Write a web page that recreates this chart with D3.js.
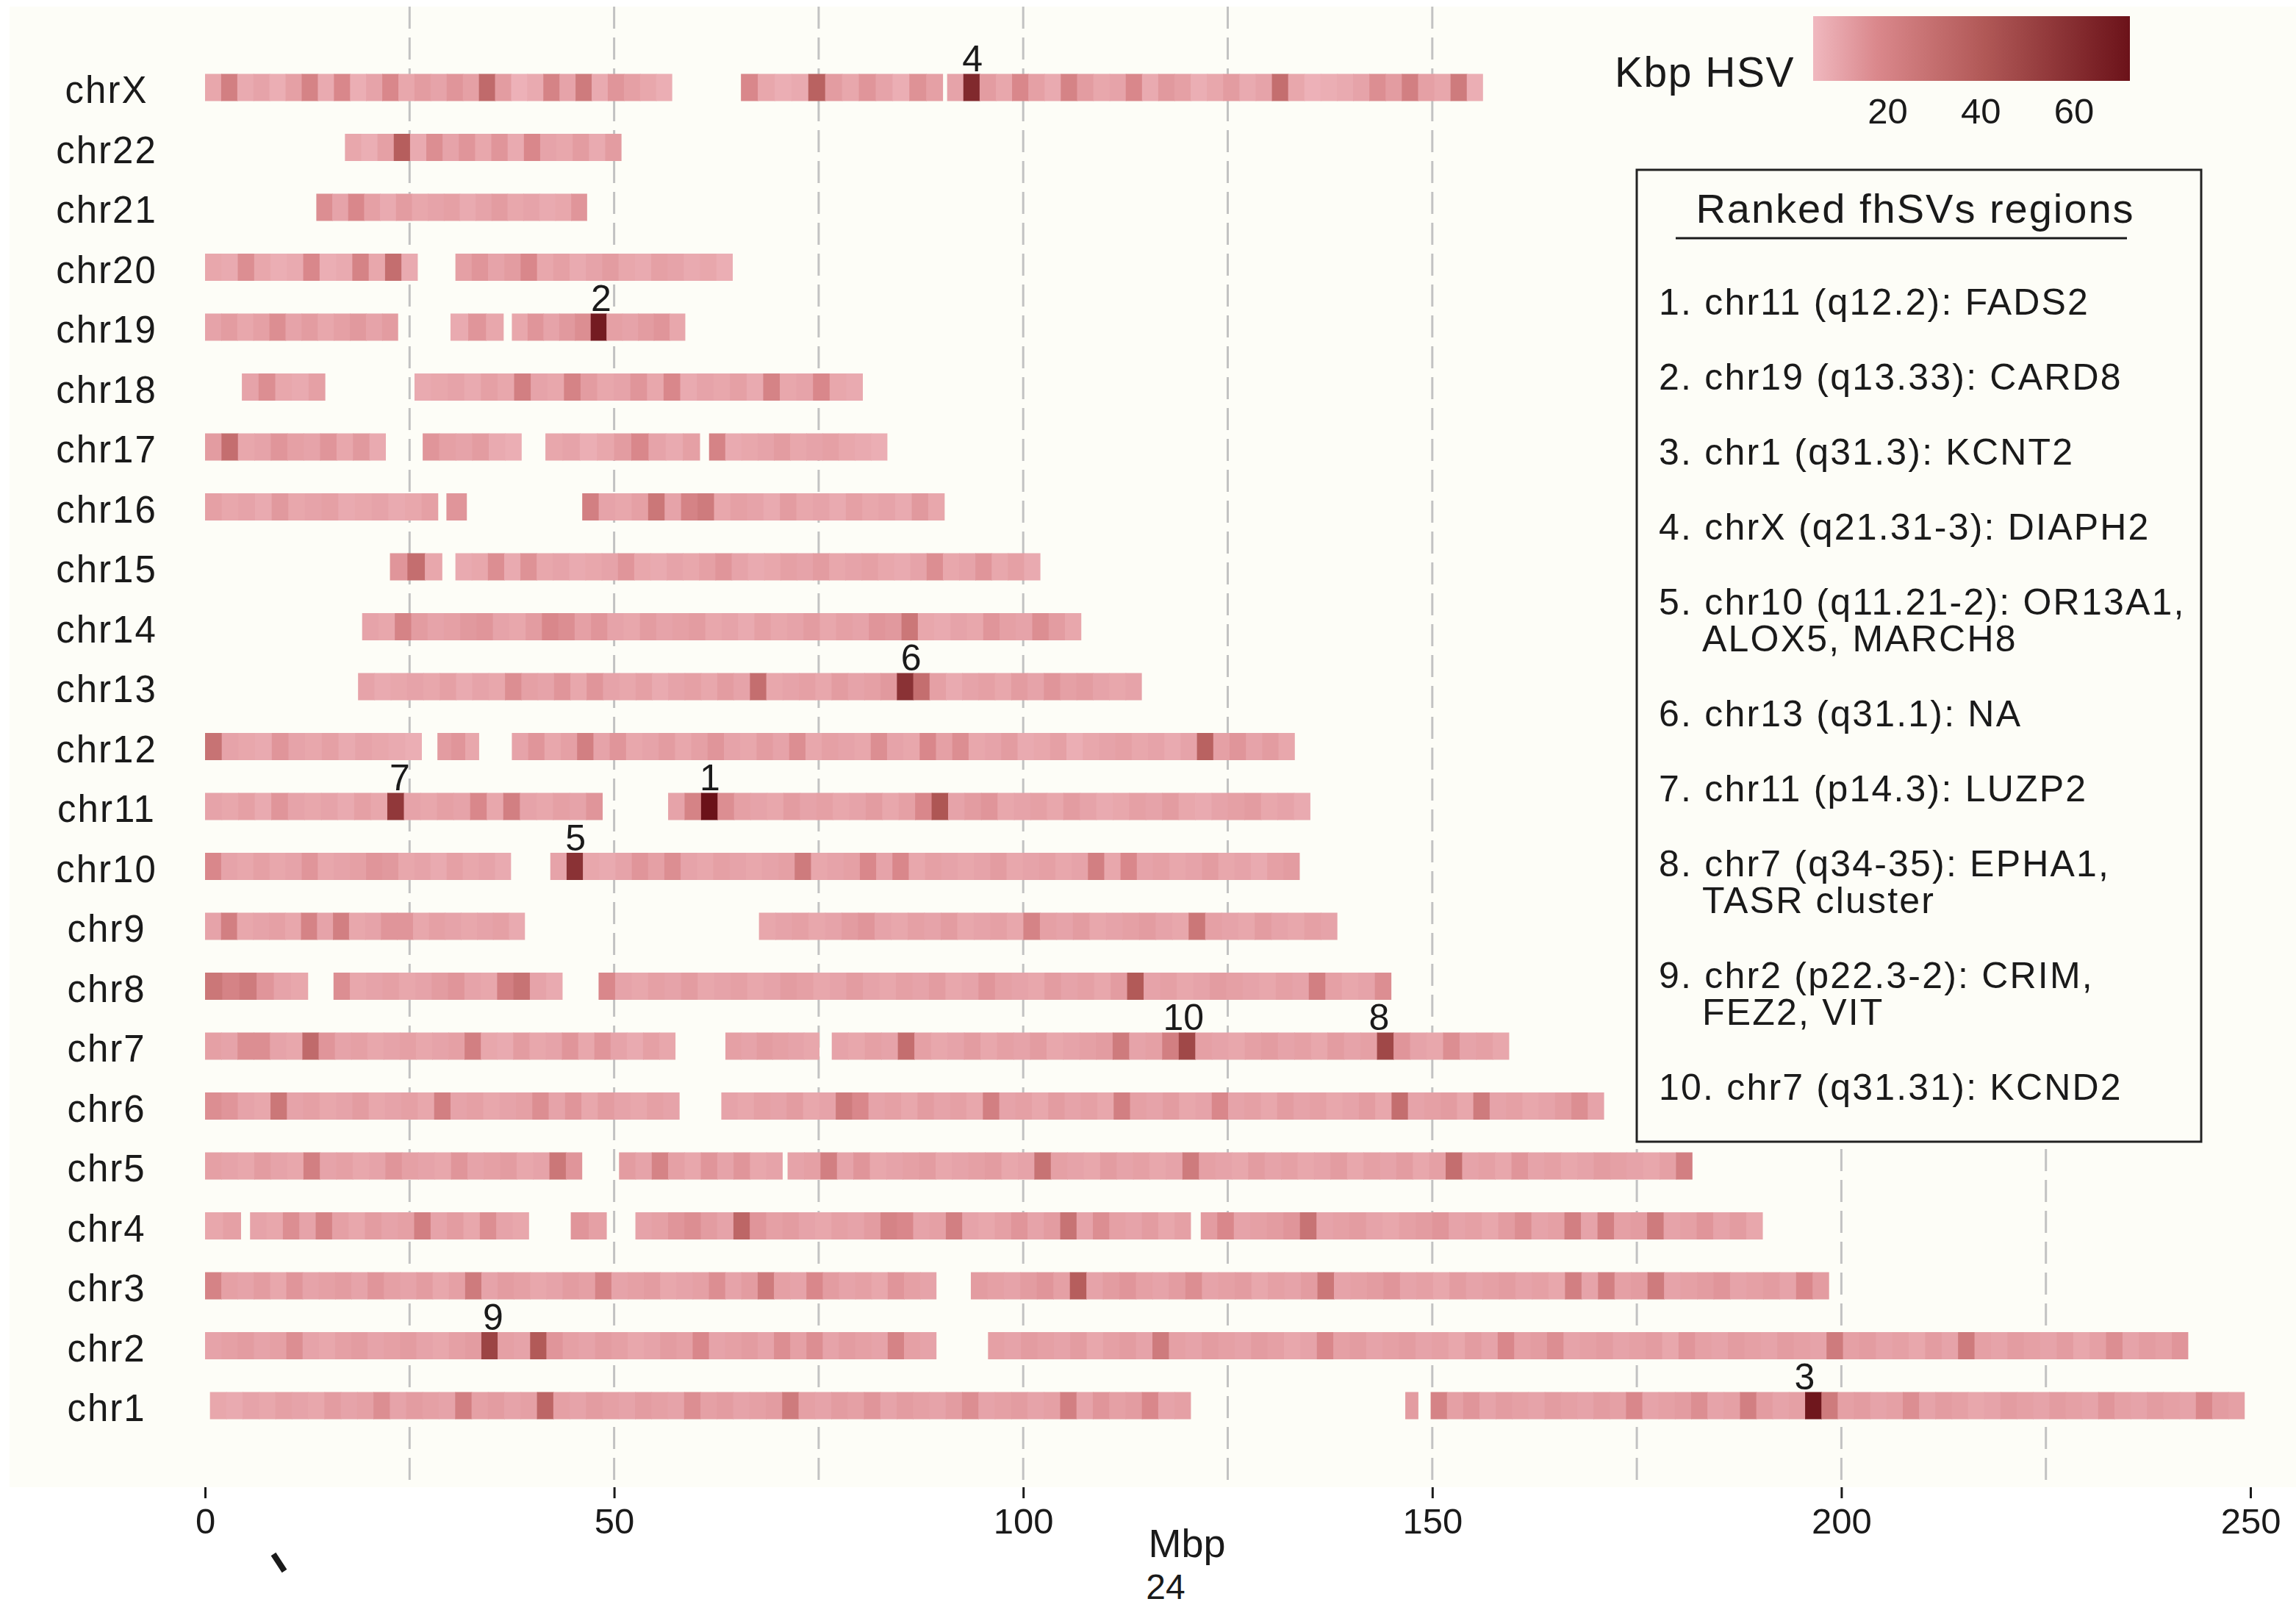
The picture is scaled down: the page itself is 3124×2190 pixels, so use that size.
<!DOCTYPE html>
<html><head><meta charset="utf-8">
<script src="https://cdn.jsdelivr.net/npm/d3@7"></script>
<style>
html,body{margin:0;padding:0;background:#fff;}
svg{display:block;}
text{font-family:"Liberation Sans",Arial,Helvetica,sans-serif;fill:#1a1a1a;}
</style>
</head><body>
<svg id="chart" width="3124" height="2190"></svg>
<script>
// ---------- DATA ----------
const chromosomes = ["chrX","chr22","chr21","chr20","chr19","chr18","chr17","chr16","chr15","chr14","chr13","chr12","chr11","chr10","chr9","chr8","chr7","chr6","chr5","chr4","chr3","chr2","chr1"];

// each segment: [start Mbp, end Mbp, binned Kbp HSV values]
const segX = [
 [0, 57.1, [9,22,8,10,7,11,20,8,18,7,10,18,9,12,10,14,11,32,12,6,8,20,10,24,8,14,11,9,7]],
 [65.5, 90.2, [18,9,7,8,36,12,9,14,10,7,15,11]],
 [90.7, 156.2, [10,62,12,9,18,11,8,20,12,9,10,18,8,13,11,7,9,12,8,10,30,9,6,7,8,10,16,12,22,11,9,24,7]]
];
const seg22 = [[17.1, 50.9, [9,7,11,38,8,16,10,14,9,14,8,18,10,9,12,8,12]]];
const seg21 = [[13.6, 46.7, [16,10,18,11,8,12,9,10,11,8,10,12,9,10,8,9,14]]];
const seg20 = [
 [0, 26, [9,8,16,9,7,8,18,7,8,20,9,30,8]],
 [30.6, 64.5, [11,14,10,12,18,9,11,8,10,12,9,8,11,10,8,9,7]]
];
const seg19 = [
 [0, 23.6, [10,12,9,11,16,10,12,9,11,13,10,12]],
 [30, 36.5, [8,14,9]],
 [37.5, 58.7, [9,14,10,13,16,68,11,10,12,14,9]]
];
const seg18 = [
 [4.5, 14.7, [10,16,9,8,11]],
 [25.6, 80.4, [8,9,10,8,11,9,22,10,9,20,12,9,10,14,9,18,8,10,9,11,8,20,9,10,18,9,8]]
];
const seg17 = [
 [0, 22.1, [12,30,9,10,14,11,10,14,9,13,8]],
 [26.6, 38.7, [14,11,10,12,8,7]],
 [41.6, 60.5, [9,10,7,9,12,18,10,8,11]],
 [61.6, 83.4, [20,8,9,10,12,9,10,11,9,8,7]]
];
const seg16 = [
 [0, 28.5, [11,9,10,8,13,9,10,11,8,9,10,8,9,11]],
 [29.5, 32, [14]],
 [46.1, 90.4, [22,10,9,11,26,10,20,24,9,11,10,8,12,9,10,8,11,9,10,8,13,9]]
];
const seg15 = [
 [22.6, 29, [14,30,9]],
 [30.6, 102.1, [8,9,16,8,15,9,10,8,9,10,14,9,8,10,9,11,14,10,8,9,11,10,12,9,10,11,9,8,10,16,9,10,14,9,11,8]]
];
const seg14 = [[19.2, 107.1, [10,9,20,12,10,11,13,14,10,9,12,18,16,11,14,10,9,12,10,11,12,9,10,8,11,9,10,12,9,11,10,14,13,26,9,8,10,9,14,11,10,16,12,9]]];
const seg13 = [[18.7, 114.5, [10,8,9,10,9,11,8,10,9,16,11,10,14,9,14,10,9,11,8,10,11,9,12,10,30,9,10,11,9,12,10,11,13,58,30,11,8,10,11,9,12,10,14,11,12,10,9,10]]];
const seg12 = [
 [0, 26.5, [28,10,9,8,14,10,9,11,8,10,9,8,7]],
 [28.4, 33.5, [12,14,9]],
 [37.5, 133.2, [10,14,9,11,22,10,14,9,10,12,9,11,14,10,9,12,10,16,9,11,10,9,16,10,9,18,11,16,9,10,12,8,9,11,7,9,10,11,9,10,8,10,36,11,14,10,12,9]]
];
const seg11 = [
 [0, 48.6, [10,9,11,8,14,10,9,10,8,11,9,55,10,9,11,10,18,9,22,10,9,11,10,14]],
 [56.6, 135.1, [10,20,72,16,11,10,9,12,10,11,9,10,12,9,11,18,42,10,12,14,9,10,11,9,12,10,8,9,11,10,12,9,8,10,11,12,9,10,8]]
];
const seg10 = [
 [0, 37.4, [18,10,9,11,9,10,14,9,10,11,14,13,9,10,8,11,9,10,8]],
 [42.2, 133.8, [10,58,9,8,10,14,11,16,10,9,11,10,9,10,11,24,9,10,11,18,10,18,9,11,10,9,10,12,9,10,11,9,10,22,9,18,10,11,9,10,12,9,10,8,11,12]]
];
const seg9 = [
 [0, 39.1, [10,22,9,10,11,9,20,10,22,9,10,14,14,9,11,10,9,10,11,8]],
 [67.7, 138.4, [9,10,11,9,10,12,14,10,9,11,10,12,9,10,11,9,20,11,10,12,9,10,11,12,10,9,26,11,10,9,12,10,9,11,10]]
];
const seg8 = [
 [0, 12.6, [26,20,24,14,10,9]],
 [15.7, 43.7, [16,9,10,11,9,10,12,14,10,9,22,28,10,8]],
 [48.1, 145, [18,10,9,11,10,12,9,10,11,9,10,12,11,9,10,12,10,9,11,10,12,9,10,14,11,10,9,12,10,11,9,12,40,10,11,9,10,12,11,10,9,11,10,22,11,9,10,16]]
];
const seg7 = [
 [0, 57.5, [11,10,16,16,10,9,32,14,10,11,9,10,11,9,10,11,22,9,8,12,9,10,14,9,14,10,8,11,9]],
 [63.6, 75.1, [11,10,12,11,10,9]],
 [76.6, 159.4, [10,9,11,10,30,11,9,10,12,9,11,10,12,9,10,11,12,24,10,11,22,48,11,10,9,11,12,10,11,9,12,10,11,48,14,10,9,16,10,11,9]]
];
const seg6 = [
 [0, 58, [16,14,10,9,26,10,11,9,10,12,9,10,11,9,22,10,11,9,10,11,16,10,14,9,12,10,9,11,10]],
 [63.1, 171, [10,9,11,10,12,9,10,24,18,10,11,9,12,10,11,9,22,10,11,9,12,10,11,9,22,11,10,12,9,10,18,10,11,9,12,10,11,9,10,12,9,30,10,11,12,9,24,10,11,9,10,12,16,10]]
];
const seg5 = [
 [0, 46.1, [11,10,9,12,10,9,22,10,11,9,10,14,11,10,9,14,10,11,12,9,10,26,14]],
 [50.6, 70.6, [12,10,20,11,9,14,10,14,9,10]],
 [71.2, 181.8, [10,11,22,10,14,9,10,11,12,9,10,11,12,9,10,28,11,10,9,12,10,11,9,10,24,11,10,9,12,10,11,9,10,12,9,11,10,12,9,11,30,10,11,9,14,10,11,9,10,12,11,10,9,11,22]]
];
const seg4 = [
 [0, 4.4, [9,11]],
 [5.5, 39.6, [10,9,16,10,20,11,9,12,10,11,22,10,12,9,16,10,9]],
 [44.7, 49.1, [14,11]],
 [52.6, 120.5, [10,11,14,16,12,10,34,14,11,12,10,9,11,10,12,20,18,10,11,22,10,9,11,14,10,12,28,10,16,11,10,12,9,11]],
 [121.7, 190.4, [12,18,10,11,12,14,28,10,11,12,10,9,11,12,14,10,11,9,12,16,10,11,22,10,22,11,12,24,10,11,14,10,12,9]]
];
const seg3 = [
 [0, 89.4, [20,11,10,12,9,14,10,11,12,10,14,11,10,12,9,11,24,10,12,11,9,10,12,11,20,10,11,12,9,10,11,16,10,12,24,11,10,18,12,10,11,9,14,11,10]],
 [93.6, 198.5, [12,11,10,12,14,11,38,10,12,14,11,10,12,16,10,11,12,9,11,10,12,26,10,11,12,14,10,11,9,12,10,11,12,10,11,9,22,10,22,11,12,24,10,11,12,14,10,11,12,10,18,12]]
];
const seg2 = [
 [0, 89.4, [10,11,12,10,11,16,10,9,11,12,10,11,12,10,9,11,12,50,11,10,40,14,11,10,12,11,9,10,12,11,18,10,11,12,10,16,11,16,10,12,11,10,20,11,10]],
 [95.7, 242.4, [11,10,12,11,10,12,9,11,12,10,24,11,10,12,11,10,12,11,9,10,18,11,12,10,11,12,10,11,9,12,10,18,11,12,16,10,11,12,10,11,12,9,14,11,10,12,11,10,12,11,10,24,11,12,10,11,9,12,10,24,11,10,12,11,10,12,9,11,16,10,12,11,14]]
];
const seg1 = [
 [0.6, 120.5, [9,8,10,9,11,10,9,12,10,11,16,10,12,11,10,22,11,12,10,11,34,11,10,12,11,10,12,11,10,16,11,12,10,11,12,24,11,10,12,11,14,10,12,11,10,12,16,10,11,12,10,11,22,10,14,11,12,18,10,11]],
 [146.7, 148.3, [12]],
 [149.8, 249.3, [20,11,14,10,12,11,10,12,11,10,12,11,18,10,11,12,16,10,11,22,12,10,11,70,24,11,12,10,11,16,10,12,11,9,10,12,11,10,12,11,10,14,11,10,12,11,10,18,12,11]]
];
const segments = [segX,seg22,seg21,seg20,seg19,seg18,seg17,seg16,seg15,seg14,seg13,seg12,seg11,seg10,seg9,seg8,seg7,seg6,seg5,seg4,seg3,seg2,seg1];

const rankLabels = ["1","2","3","4","5","6","7","8","9","10"];
const rankChr = ["chr11","chr19","chr1","chrX","chr10","chr13","chr11","chr7","chr2","chr7"];
const rankPos = [61.7, 48.4, 195.5, 93.8, 45.3, 86.3, 23.8, 143.5, 35.2, 119.6];

const legendEntries = [
 ["1. chr11 (q12.2): FADS2"],
 ["2. chr19 (q13.33): CARD8"],
 ["3. chr1 (q31.3): KCNT2"],
 ["4. chrX (q21.31-3): DIAPH2"],
 ["5. chr10 (q11.21-2): OR13A1,", "ALOX5, MARCH8"],
 ["6. chr13 (q31.1): NA"],
 ["7. chr11 (p14.3): LUZP2"],
 ["8. chr7 (q34-35): EPHA1,", "TASR cluster"],
 ["9. chr2 (p22.3-2): CRIM,", "FEZ2, VIT"],
 ["10. chr7 (q31.31): KCND2"]
];
const legendTitle = "Ranked fhSVs regions";
const colorTitle = "Kbp HSV";
const colorTicks = [20, 40, 60];
const colorDomain = [4, 18, 40, 72];
const colorRange = ["#f0b8bf", "#d9878b", "#b25a58", "#6b1219"];
const xTicks = [0, 50, 100, 150, 200, 250];
const gridValues = [25, 50, 75, 100, 125, 150, 175, 200, 225];
const xTitle = "Mbp";
const pageNumber = "24";

// ---------- DRAW ----------
const W = 3124, H = 2190;
const FONT = '"Liberation Sans",Arial,Helvetica,sans-serif';
const PANEL_BG = "#fdfdf7";
const svg = d3.select("#chart");
svg.append("rect").attr("width", W).attr("height", H).attr("fill", "#fff");
const panel = {x0: 13, x1: 3124, y0: 9, y1: 2023};
svg.append("rect").attr("x", panel.x0).attr("y", panel.y0)
  .attr("width", panel.x1 - panel.x0).attr("height", panel.y1 - panel.y0).attr("fill", PANEL_BG);

const x = d3.scaleLinear().domain([0, 250]).range([279, 3062]);
const y = d3.scalePoint().domain(chromosomes).range([119, 1912]);
const color = d3.scaleLinear().domain(colorDomain).range(colorRange).clamp(true);

// gridlines
svg.append("g").selectAll("line").data(gridValues).join("line")
  .attr("x1", d => x(d)).attr("x2", d => x(d))
  .attr("y1", panel.y0).attr("y2", panel.y1)
  .attr("stroke", "#c2c2c2").attr("stroke-width", 3).attr("stroke-dasharray", "30,12");

// legend background covering gridlines
svg.append("rect").attr("x", 2160).attr("y", panel.y0)
  .attr("width", panel.x1 - 2160).attr("height", 1556 - panel.y0).attr("fill", PANEL_BG);

// bins
const barH = 37;
const bins = [];
chromosomes.forEach((c, ci) => {
  segments[ci].forEach(([s, e, vals]) => {
    const w = (e - s) / vals.length;
    vals.forEach((v, i) => bins.push({c, a: s + i * w, b: s + (i + 1) * w, v, last: i === vals.length - 1}));
  });
});
svg.append("g").selectAll("rect").data(bins).join("rect")
  .attr("x", d => x(d.a)).attr("y", d => y(d.c) - barH / 2)
  .attr("width", d => x(d.b) - x(d.a) + (d.last ? 0 : 0.8))
  .attr("height", barH)
  .attr("fill", d => color(d.v));

// chromosome labels
svg.append("g").selectAll("text").data(chromosomes).join("text")
  .attr("x", 145).attr("y", d => y(d) + 21)
  .attr("text-anchor", "middle").attr("font-size", 51).attr("letter-spacing", 2)
  .text(d => d);

// rank labels
svg.append("g").selectAll("text").data(rankLabels).join("text")
  .attr("x", (d, i) => x(rankPos[i])).attr("y", (d, i) => y(rankChr[i]) - 22)
  .attr("text-anchor", "middle").attr("font-size", 50)
  .text(d => d);

// x axis
const axis = d3.axisBottom(x).tickValues(xTicks).tickSize(15).tickPadding(13).tickFormat(d3.format("d"));
const gA = svg.append("g").attr("transform", `translate(0,${panel.y1})`).call(axis);
gA.attr("font-size", 49).attr("font-family", FONT);
gA.select(".domain").remove();
gA.selectAll(".tick line").attr("stroke", "#1a1a1a").attr("stroke-width", 3);
gA.selectAll(".tick text").attr("fill", "#1a1a1a");

svg.append("text").attr("x", 1615).attr("y", 2118).attr("text-anchor", "middle")
  .attr("font-size", 54).text(xTitle);
svg.append("text").attr("x", 1586).attr("y", 2175).attr("text-anchor", "middle")
  .attr("font-size", 48).text(pageNumber);
// stray stroke mark
svg.append("line").attr("x1", 372).attr("y1", 2114).attr("x2", 387).attr("y2", 2137)
  .attr("stroke", "#1a1a1a").attr("stroke-width", 8);

// color legend
svg.append("text").attr("x", 2197).attr("y", 118).attr("font-size", 57).attr("letter-spacing", 1.5).text(colorTitle);
const lx = d3.scaleLinear().domain([colorDomain[0], colorDomain[colorDomain.length - 1]]).range([2467, 2898]);
const defs = svg.append("defs");
const grad = defs.append("linearGradient").attr("id", "cbar").attr("x1", "0%").attr("x2", "100%");
d3.range(0, 21).forEach(i => {
  const v = lx.domain()[0] + (lx.domain()[1] - lx.domain()[0]) * i / 20;
  grad.append("stop").attr("offset", (i * 5) + "%").attr("stop-color", color(v));
});
svg.append("rect").attr("x", lx.range()[0]).attr("y", 22)
  .attr("width", lx.range()[1] - lx.range()[0]).attr("height", 88).attr("fill", "url(#cbar)");
svg.append("g").selectAll("text").data(colorTicks).join("text")
  .attr("x", d => lx(d)).attr("y", 168).attr("text-anchor", "middle").attr("font-size", 49)
  .text(d => d);

// ranked regions box
svg.append("rect").attr("x", 2227).attr("y", 231).attr("width", 768).attr("height", 1322)
  .attr("fill", "none").attr("stroke", "#222").attr("stroke-width", 3);
svg.append("text").attr("x", 2606).attr("y", 303).attr("text-anchor", "middle")
  .attr("font-size", 56).attr("letter-spacing", 2).text(legendTitle);
svg.append("line").attr("x1", 2280).attr("x2", 2894).attr("y1", 324).attr("y2", 324)
  .attr("stroke", "#1a1a1a").attr("stroke-width", 3);
let yy = 428;
const gL = svg.append("g");
legendEntries.forEach(lines => {
  lines.forEach((ln, j) => {
    gL.append("text").attr("x", j === 0 ? 2257 : 2316).attr("y", yy + j * 50)
      .attr("font-size", 50).attr("letter-spacing", 2.2).text(ln);
  });
  yy += lines.length * 50 + 52;
});
</script>
</body></html>
